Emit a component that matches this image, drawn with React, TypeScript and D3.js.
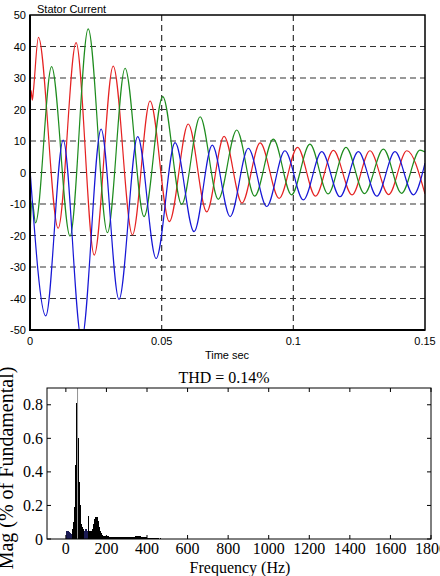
import React, { useEffect, useRef } from "react";
import * as d3 from "d3";

// stator current: peaks / troughs (time in s, current in A)
var redT = [0, 0.0004, 0.0009, 0.0013, 0.0032, 0.0107, 0.0175, 0.0244, 0.0316, 0.0389, 0.0456, 0.0529, 0.0601, 0.0671, 0.0737, 0.0805, 0.0874, 0.0946, 0.1016, 0.1084, 0.1152, 0.1223, 0.1291, 0.1362, 0.1431, 0.15];
var redI = [20, 26, 23, 26, 42.9, -17.7, 41.2, -26.2, 33.8, -19.8, 22.7, -15.6, 15.4, -12.5, 11.5, -9.7, 9.4, -8.2, 8.0, -7.5, 7.0, -7.1, 6.9, -7.0, 6.9, -6.8];

var greenT = [0, 0.0008, 0.0021, 0.0082, 0.0152, 0.0221, 0.0294, 0.0361, 0.0433, 0.0504, 0.0576, 0.0646, 0.0715, 0.0785, 0.0853, 0.0924, 0.0993, 0.1063, 0.1132, 0.12, 0.127, 0.1342, 0.1411, 0.1481, 0.15];
var greenI = [-20, -9, -16, 33.6, -20.2, 45.6, -19.1, 33.1, -14.0, 24.1, -10.1, 17.7, -8.5, 13.5, -7.5, 10.6, -7.1, 9.0, -6.8, 8.0, -6.7, 7.4, -6.6, 7.1, 6.5];

var blueT = [0, 0.006, 0.0126, 0.0196, 0.027, 0.0338, 0.0409, 0.0479, 0.0551, 0.0623, 0.0692, 0.076, 0.0829, 0.0899, 0.0968, 0.1038, 0.1108, 0.1177, 0.1247, 0.1317, 0.1386, 0.1456, 0.15];
var blueI = [1, -45.5, 10.3, -53, 13.8, -40.3, 11.4, -27.3, 9.5, -18.8, 8.7, -14.0, 7.7, -10.8, 6.9, -8.7, 6.6, -7.7, 6.6, -7.5, 6.6, -7.1, 3];

var timeTicks = [0, 0.05, 0.1, 0.15];
var timeLabels = ["0", "0.05", "0.1", "0.15"];
var currentTicks = [-50, -40, -30, -20, -10, 0, 10, 20, 30, 40, 50];

// FFT spectrum (Hz, % of fundamental)
var freqHz = [3, 8, 13, 18, 23, 28, 33, 38, 43, 48, 53, 58, 63, 68, 73, 78, 83, 88, 93, 98, 103, 108, 113, 118, 123, 128, 133, 138, 143, 148, 153, 158, 163, 168, 173, 178, 183, 188, 193, 198,
  205, 215, 225, 235, 245, 255, 265, 275, 285, 295, 305, 315, 325, 335, 345, 355, 365, 375, 385, 395, 405, 415, 425, 435, 445, 455, 465];
var magPct = [0.045, 0.045, 0.045, 0.04, 0.035, 0.03, 0.06, 0.1, 0.19, 0.44, 0.81, 100, 0.6, 0.34, 0.2, 0.09, 0.07, 0.06, 0.05, 0.06, 0.06, 0.05, 0.137, 0.05, 0.04, 0.05, 0.06, 0.09, 0.12, 0.13, 0.13, 0.11, 0.07, 0.05, 0.035, 0.025, 0.02, 0.018, 0.015, 0.015,
  0.015, 0.012, 0.014, 0.012, 0.013, 0.012, 0.012, 0.013, 0.011, 0.012, 0.01, 0.011, 0.012, 0.013, 0.018, 0.02, 0.015, 0.012, 0.01, 0.009, 0.008, 0.008, 0.007, 0.006, 0.005, 0.005, 0.004];

var freqTicks = [0, 200, 400, 600, 800, 1000, 1200, 1400, 1600, 1800];
var magTicks = [0, 0.2, 0.4, 0.6, 0.8];
var magLabels = ["0", "0.2", "0.4", "0.6", "0.8"];

var SANS = "'Liberation Sans', Arial, sans-serif";
var SERIF = "'Liberation Serif', 'Times New Roman', serif";

export default function App() {
  const ref = useRef<SVGSVGElement>(null);

  useEffect(() => {
    var svg = d3.select(ref.current);
    svg.selectAll("*").remove();

    //////////////////////////////////////////////////
    // top: stator current

    var x = d3.scaleLinear().domain([0, 0.15]).range([30, 425]);
    var y = d3.scaleLinear().domain([-50, 50]).range([330, 15]);

    var defs = svg.append("defs");
    defs.append("clipPath").attr("id", "clipTop")
      .append("rect")
      .attr("x", x(0)).attr("y", y(50))
      .attr("width", x(0.15) - x(0)).attr("height", y(-50) - y(50));

    var grid = svg.append("g")
      .attr("stroke", "#333")
      .attr("stroke-width", 1.2)
      .attr("stroke-dasharray", "6 4");

    grid.selectAll(".hg")
      .data(currentTicks.filter(d => d > -50 && d < 50))
      .enter()
      .append("line")
      .attr("x1", x(0)).attr("x2", x(0.15))
      .attr("y1", d => y(d)).attr("y2", d => y(d));

    grid.selectAll(".vg")
      .data(timeTicks.filter(d => d > 0 && d < 0.15))
      .enter()
      .append("line")
      .attr("y1", y(50)).attr("y2", y(-50))
      .attr("x1", d => x(d)).attr("x2", d => x(d));

    var series = [
      { t: redT, v: redI, color: "#e52222" },
      { t: greenT, v: greenI, color: "#1e8c1e" },
      { t: blueT, v: blueI, color: "#1717d6" }
    ];

    var traces = svg.append("g").attr("clip-path", "url(#clipTop)");
    series.forEach(s => {
      var l = d3.line<number>()
        .x((d, i) => x(s.t[i]))
        .y(d => y(d))
        .curve(d3.curveMonotoneX);
      traces.append("path")
        .attr("d", l(s.v))
        .attr("fill", "none")
        .attr("stroke", s.color)
        .attr("stroke-width", 1.2);
    });

    // frame
    svg.append("rect")
      .attr("x", x(0)).attr("y", y(50))
      .attr("width", x(0.15) - x(0)).attr("height", y(-50) - y(50))
      .attr("fill", "none").attr("stroke", "#000").attr("stroke-width", 1.5);
    svg.append("line")
      .attr("x1", x(0)).attr("x2", x(0)).attr("y1", y(50)).attr("y2", y(-50) + 1)
      .attr("stroke", "#000").attr("stroke-width", 2);
    svg.append("line")
      .attr("x1", x(0) - 1).attr("x2", x(0.15)).attr("y1", y(-50)).attr("y2", y(-50))
      .attr("stroke", "#000").attr("stroke-width", 2);

    svg.selectAll(".ylab")
      .data(currentTicks)
      .enter()
      .append("text")
      .attr("x", 26)
      .attr("y", d => y(d) + 4)
      .attr("text-anchor", "end")
      .attr("font-family", SANS)
      .attr("font-size", 11)
      .text(d => String(d));

    svg.selectAll(".xlab")
      .data(timeTicks)
      .enter()
      .append("text")
      .attr("x", d => x(d))
      .attr("y", 345)
      .attr("text-anchor", "middle")
      .attr("font-family", SANS)
      .attr("font-size", 11)
      .text((d, i) => timeLabels[i]);

    svg.append("text")
      .attr("x", 37).attr("y", 13)
      .attr("font-family", SANS).attr("font-size", 11)
      .text("Stator Current");

    svg.append("text")
      .attr("x", 227).attr("y", 359)
      .attr("text-anchor", "middle")
      .attr("font-family", SANS).attr("font-size", 11)
      .text("Time sec");

    //////////////////////////////////////////////////
    // bottom: FFT spectrum

    var fx = d3.scaleLinear().domain([-93, 1800]).range([47, 431]);
    var fy = d3.scaleLinear().domain([0, 0.9]).range([539, 388]);

    defs.append("clipPath").attr("id", "clipBot")
      .append("rect")
      .attr("x", fx(-93)).attr("y", fy(0.9))
      .attr("width", fx(1800) - fx(-93)).attr("height", fy(0) - fy(0.9));

    var bars = svg.append("g").attr("clip-path", "url(#clipBot)");
    bars.selectAll("rect")
      .data(magPct)
      .enter()
      .append("rect")
      .attr("shape-rendering", d => (d > 0.9 ? "auto" : "crispEdges"))
      .attr("x", (d, i) => {
        var w = fx(freqHz[Math.min(i + 1, freqHz.length - 1)]) - fx(freqHz[i]) || 1;
        if (d > 0.9) w = 0.8;
        return fx(freqHz[i]) - w / 2;
      })
      .attr("width", (d, i) => {
        if (d > 0.9) return 0.8;
        var w = fx(freqHz[Math.min(i + 1, freqHz.length - 1)]) - fx(freqHz[i]);
        return w > 0 ? w + 0.2 : 1;
      })
      .attr("y", d => fy(Math.min(d, 0.95)))
      .attr("height", d => fy(0) - fy(Math.min(d, 0.95)))
      .attr("fill", (d, i) => {
        var f = freqHz[i];
        if (d > 0.9) return "#777";
        if (f < 30 || (f > 90 && f < 111)) return "#1c1c55";
        return "#000";
      });

    svg.append("rect")
      .attr("x", fx(-93)).attr("y", fy(0.9))
      .attr("width", fx(1800) - fx(-93)).attr("height", fy(0) - fy(0.9))
      .attr("fill", "none").attr("stroke", "#000").attr("stroke-width", 1);

    var tickLen = 4;
    var ticks = svg.append("g").attr("stroke", "#000").attr("stroke-width", 1);
    freqTicks.forEach(f => {
      ticks.append("line").attr("x1", fx(f)).attr("x2", fx(f)).attr("y1", fy(0)).attr("y2", fy(0) - tickLen);
      ticks.append("line").attr("x1", fx(f)).attr("x2", fx(f)).attr("y1", fy(0.9)).attr("y2", fy(0.9) + tickLen);
    });
    magTicks.forEach(m => {
      ticks.append("line").attr("x1", fx(-93)).attr("x2", fx(-93) + tickLen).attr("y1", fy(m)).attr("y2", fy(m));
      ticks.append("line").attr("x1", fx(1800)).attr("x2", fx(1800) - tickLen).attr("y1", fy(m)).attr("y2", fy(m));
    });

    svg.selectAll(".flab")
      .data(freqTicks)
      .enter()
      .append("text")
      .attr("x", d => fx(d))
      .attr("y", 554)
      .attr("text-anchor", "middle")
      .attr("font-family", SERIF)
      .attr("font-size", 16)
      .text(d => String(d));

    svg.selectAll(".mlab")
      .data(magTicks)
      .enter()
      .append("text")
      .attr("x", 43)
      .attr("y", d => fy(d) + 5.5)
      .attr("text-anchor", "end")
      .attr("font-family", SERIF)
      .attr("font-size", 16)
      .text((d, i) => magLabels[i]);

    svg.append("text")
      .attr("x", 224).attr("y", 383)
      .attr("text-anchor", "middle")
      .attr("font-family", SERIF).attr("font-size", 16)
      .text("THD = 0.14%");

    svg.append("text")
      .attr("x", 240).attr("y", 573)
      .attr("text-anchor", "middle")
      .attr("font-family", SERIF).attr("font-size", 16)
      .text("Frequency (Hz)");

    svg.append("text")
      .attr("transform", "translate(13,468) rotate(-90)")
      .attr("text-anchor", "middle")
      .attr("font-family", SERIF).attr("font-size", 20)
      .text("Mag (% of Fundamental)");
  }, []);

  return (
    <svg
      ref={ref}
      width={440}
      height={576}
      style={{ position: "absolute", left: 0, top: 0, background: "#fff" }}
    />
  );
}
